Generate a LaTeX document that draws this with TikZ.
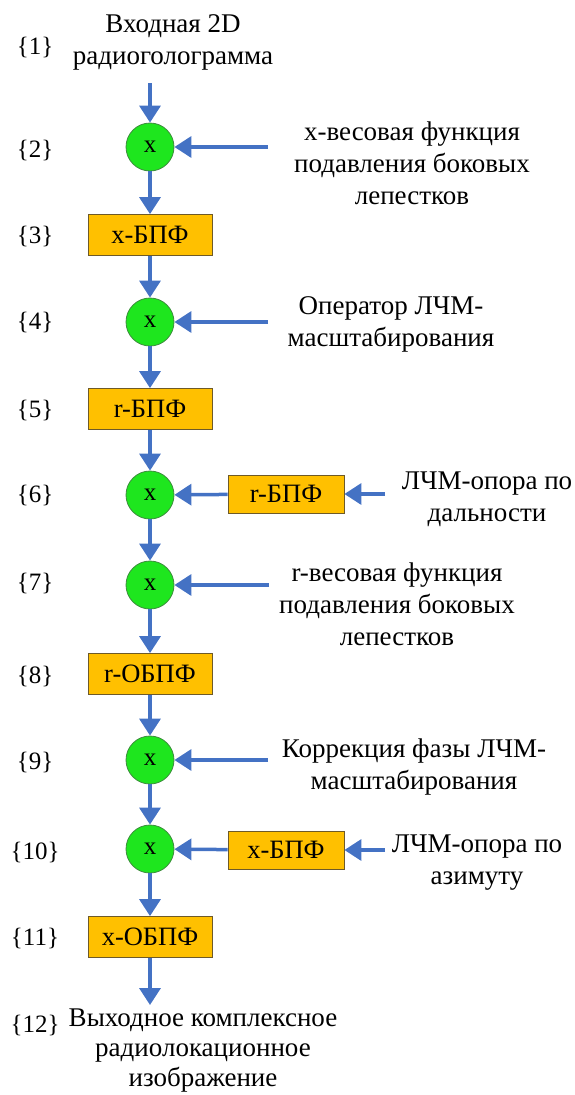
\documentclass[tikz,border=0pt]{standalone}
\usepackage{fontspec}
\setmainfont{Liberation Serif}
\usetikzlibrary{arrows.meta}
\definecolor{flowblue}{HTML}{4472C4}
\definecolor{mulgreen}{HTML}{1EE61E}
\definecolor{muledge}{HTML}{3C8C3C}
\definecolor{boxfill}{HTML}{FFC000}
\definecolor{boxedge}{HTML}{6E5A28}
\begin{document}
\begin{tikzpicture}[x=1pt,y=-1pt,
  mult/.style={circle, draw=muledge, line width=0.8pt, fill=mulgreen,
    minimum size=48pt, inner sep=0pt, font=\fontsize{25}{27}\selectfont},
  block/.style={rectangle, draw=boxedge, line width=0.8pt, fill=boxfill,
    minimum width=124pt, minimum height=41pt, inner sep=0pt,
    font=\fontsize{26.5}{29}\selectfont},
  sideblock/.style={block, minimum width=116pt, minimum height=38pt},
  num/.style={font=\fontsize{25}{28}\selectfont},
  note/.style={align=center, inner sep=0pt, font=\fontsize{27}{32}\selectfont},
  flow/.style={draw=flowblue, line width=3.5pt, -{Triangle[length=17pt,width=21pt]}}
]
\useasboundingbox (0,0) rectangle (574,1095);

% step numbers
\node[num] (n1)  at (35,47)   {\{1\}};
\node[num] (n2)  at (35,150)  {\{2\}};
\node[num] (n3)  at (35,236)  {\{3\}};
\node[num] (n4)  at (35,322)  {\{4\}};
\node[num] (n5)  at (35,410)  {\{5\}};
\node[num] (n6)  at (35,495)  {\{6\}};
\node[num] (n7)  at (35,583)  {\{7\}};
\node[num] (n8)  at (35,676)  {\{8\}};
\node[num] (n9)  at (35,762)  {\{9\}};
\node[num] (n10) at (35,852)  {\{10\}};
\node[num] (n11) at (35,938)  {\{11\}};
\node[num] (n12) at (35,1025) {\{12\}};

% main chain
\node[note] (in)  at (173,42)  {Входная 2D\\радиоголограмма};
\coordinate (inp) at (150,83);
\node[mult]  (c2)  at (150,147) {x};
\node[block] (b3)  at (150,235) {x-БПФ};
\node[mult]  (c4)  at (150,322) {x};
\node[block] (b5)  at (150,409) {r-БПФ};
\node[mult]  (c6)  at (150,495) {x};
\node[mult]  (c7)  at (150,585) {x};
\node[block] (b8)  at (150,674) {r-ОБПФ};
\node[mult]  (c9)  at (150,760) {x};
\node[mult]  (c10) at (150,849) {x};
\node[block] (b11) at (150,937) {x-ОБПФ};
\coordinate (outp) at (150,1005);
\node[note, font=\fontsize{27}{30}\selectfont] (out) at (203,1051)
  {Выходное комплексное\\радиолокационное\\изображение};

% side inputs
\node[note] (t2)  at (412,163) {x-весовая функция\\подавления боковых\\лепестков};
\coordinate (r2) at (268,147);
\node[note] (t4)  at (391,324) {Оператор ЛЧМ-\\масштабирования};
\coordinate (r4) at (268,322);
\node[sideblock] (s6) at (286,494) {r-БПФ};
\node[note] (t6)  at (487,499) {ЛЧМ-опора по\\дальности};
\coordinate (r6) at (385,494);
\node[note] (t7)  at (397,604) {r-весовая функция\\подавления боковых\\лепестков};
\coordinate (r7) at (269,585);
\node[note] (t9)  at (414,767) {Коррекция фазы ЛЧМ-\\масштабирования};
\coordinate (r9) at (268,760);
\node[sideblock] (s10) at (286,850) {x-БПФ};
\node[note] (t10) at (477,863) {ЛЧМ-опора по\\азимуту};
\coordinate (r10) at (385,850);

% connectors
\draw[flow] (inp) -- (c2);
\draw[flow] (c2) -- (b3);
\draw[flow] (b3) -- (c4);
\draw[flow] (c4) -- (b5);
\draw[flow] (b5) -- (c6);
\draw[flow] (c6) -- (c7);
\draw[flow] (c7) -- (b8);
\draw[flow] (b8) -- (c9);
\draw[flow] (c9) -- (c10);
\draw[flow] (c10) -- (b11);
\draw[flow] (b11) -- (outp);

\draw[flow] (r2) -- (c2);
\draw[flow] (r4) -- (c4);
\draw[flow] (r6) -- (s6);
\draw[flow] (s6) -- (c6);
\draw[flow] (r7) -- (c7);
\draw[flow] (r9) -- (c9);
\draw[flow] (r10) -- (s10);
\draw[flow] (s10) -- (c10);
\end{tikzpicture}
\end{document}
